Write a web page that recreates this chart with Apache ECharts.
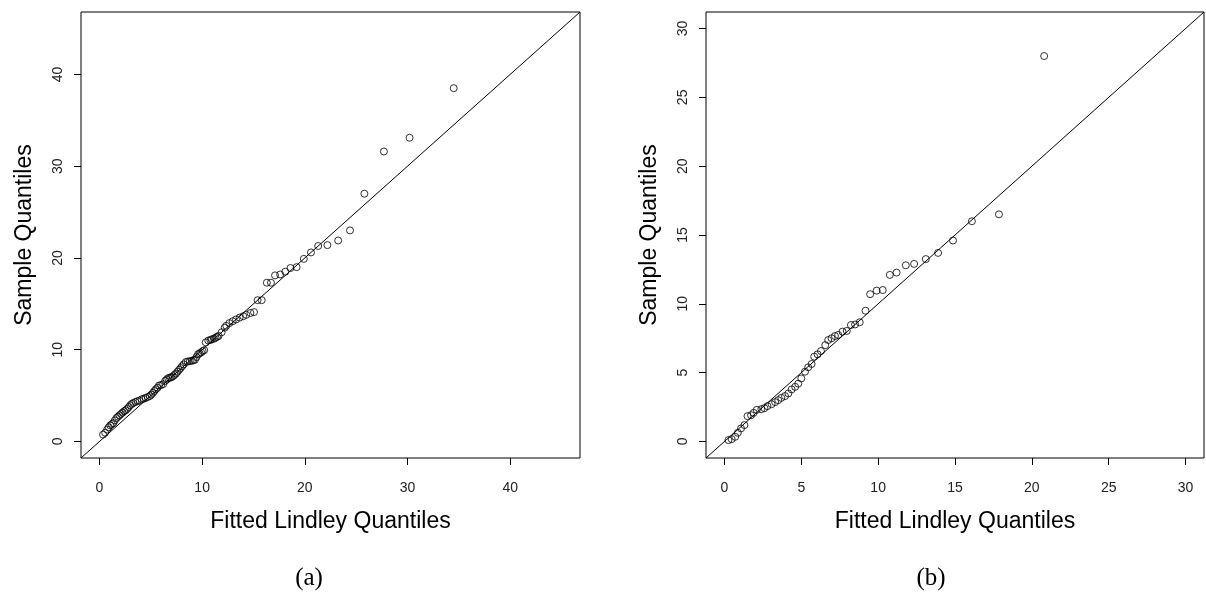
<!DOCTYPE html>
<html>
<head>
<meta charset="utf-8">
<script src="https://cdn.jsdelivr.net/npm/echarts@6/dist/echarts.min.js"></script>
<style>
  html, body { margin: 0; padding: 0; background: #fff; }
  #chart { width: 1206px; height: 594px; }
</style>
</head>
<body>
<div id="chart"></div>
<script>
// panel (a): fitted Lindley quantiles vs sorted sample
const fittedA = [
  0.35, 0.55, 0.75, 0.9, 1.05, 1.2, 1.35, 1.5, 1.65, 1.8,
  1.95, 2.1, 2.25, 2.4, 2.55, 2.7, 2.85, 3.0, 3.15, 3.3,
  3.5, 3.7, 3.9, 4.1, 4.3, 4.5, 4.7, 4.9, 5.05, 5.2,
  5.35, 5.5, 5.65, 5.8, 6.0, 6.2, 6.4, 6.55, 6.7, 6.85,
  7.0, 7.15, 7.3, 7.45, 7.6, 7.75, 7.9, 8.05, 8.2, 8.4,
  8.6, 8.8, 9.0, 9.15, 9.3, 9.45, 9.6, 9.75, 9.9, 10.05,
  10.2, 10.35, 10.6, 10.8, 10.96, 11.15, 11.3, 11.45, 11.6, 11.9,
  12.2, 12.35, 12.65, 12.97, 13.3, 13.65, 14.0, 14.3, 14.7, 15.05,
  15.4, 15.8, 16.3, 16.7, 17.1, 17.6, 18.1, 18.6, 19.2, 19.9,
  20.6, 21.3, 22.2, 23.25, 24.4, 25.8, 27.7, 30.2, 34.5
]
const sampleA = [
  0.75, 0.95, 1.3, 1.55, 1.75, 1.9, 2.0, 2.3, 2.55, 2.7,
  2.85, 3.0, 3.15, 3.3, 3.4, 3.55, 3.75, 3.95, 4.1, 4.2,
  4.3, 4.4, 4.45, 4.6, 4.65, 4.75, 4.85, 4.95, 5.1, 5.3,
  5.5, 5.7, 5.85, 6.1, 6.15, 6.25, 6.6, 6.75, 6.9, 6.95,
  7.0, 7.1, 7.25, 7.4, 7.6, 7.8, 8.0, 8.2, 8.4, 8.65,
  8.72, 8.75, 8.8, 8.85, 8.9, 9.2, 9.5, 9.6, 9.7, 9.85,
  9.95, 10.8, 11.0, 11.05, 11.15, 11.2, 11.3, 11.4, 11.5, 11.9,
  12.4, 12.6, 12.9, 13.1, 13.3, 13.5, 13.65, 13.8, 14.0, 14.1,
  15.4, 15.4, 17.3, 17.3, 18.1, 18.2, 18.5, 18.9, 19.0, 19.9,
  20.6, 21.3, 21.4, 21.9, 23.0, 27.0, 31.6, 33.1, 38.5
]

// panel (b)
const fittedB = [
  0.26, 0.47, 0.7, 0.87, 1.08, 1.3, 1.5, 1.73, 1.9, 2.1,
  2.4, 2.6, 2.8, 3.07, 3.3, 3.5, 3.7, 3.94, 4.16, 4.37,
  4.6, 4.8, 5.0, 5.24, 5.45, 5.67, 5.84, 6.06, 6.28, 6.56,
  6.75, 6.97, 7.19, 7.4, 7.68, 7.96, 8.23, 8.5, 8.8, 9.18,
  9.48, 9.9, 10.3, 10.76, 11.2, 11.8, 12.34, 13.1, 13.9, 14.87,
  16.1, 17.86, 20.8
]
const sampleB = [
  0.1, 0.17, 0.34, 0.63, 0.95, 1.19, 1.84, 1.91, 2.08, 2.3,
  2.35, 2.42, 2.57, 2.71, 2.86, 3.0, 3.17, 3.3, 3.49, 3.78,
  3.97, 4.2, 4.58, 5.07, 5.39, 5.63, 6.16, 6.33, 6.57, 7.0,
  7.37, 7.5, 7.66, 7.74, 7.98, 8.03, 8.46, 8.5, 8.66, 9.5,
  10.7, 10.96, 11.0, 12.1, 12.27, 12.8, 12.9, 13.25, 13.7, 14.6,
  16.0, 16.5, 28.0
]

const ticksA = [0, 10, 20, 30, 40]
const ticksB = [0, 5, 10, 15, 20, 25, 30]
const rangeA = [-1.8, 46.8]
const rangeB = [-1.2, 31.2]

const xTitle = 'Fitted Lindley Quantiles'
const yTitle = 'Sample Quantiles'
const panelLabels = ['(a)', '(b)']

const font = 'Liberation Sans, Arial, Helvetica, sans-serif'
const serif = 'Liberation Serif, DejaVu Serif, serif'

const pairs = (xs, ys) => xs.map((x, i) => [x, ys[i]])

const makeAxis = (gridIndex, range, ticks, name, isY) => ({
  gridIndex: gridIndex,
  type: 'value',
  min: range[0],
  max: range[1],
  name: name,
  nameLocation: 'middle',
  nameGap: isY ? 45 : 52,
  nameTextStyle: { fontFamily: font, fontSize: 23, color: '#000' },
  splitLine: { show: false },
  axisLine: { show: false, onZero: false },
  axisTick: {
    show: true,
    length: 7,
    customValues: ticks,
    lineStyle: { color: '#000', width: 1 }
  },
  axisLabel: {
    customValues: ticks,
    rotate: isY ? 90 : 0,
    margin: isY ? 16 : 23,
    fontFamily: font,
    fontSize: 14,
    color: '#222'
  }
})

const pointSeries = (idx, data) => ({
  type: 'scatter',
  xAxisIndex: idx,
  yAxisIndex: idx,
  data: data,
  symbol: 'circle',
  symbolSize: 7,
  itemStyle: { color: 'rgba(0,0,0,0)', borderColor: '#000', borderWidth: 1 },
  silent: true
})

const refLine = (idx, range) => ({
  type: 'line',
  xAxisIndex: idx,
  yAxisIndex: idx,
  data: [[range[0], range[0]], [range[1], range[1]]],
  symbol: 'none',
  clip: true,
  lineStyle: { color: '#000', width: 1 },
  silent: true
})

const panelTitle = (text, x) => ({
  text: text,
  left: x,
  top: 561,
  textAlign: 'center',
  textStyle: { fontFamily: serif, fontSize: 25, fontWeight: 'normal', color: '#000' }
})

const chart = echarts.init(document.getElementById('chart'))

const option = {
  animation: false,
  backgroundColor: '#fff',
  title: [
    panelTitle(panelLabels[0], 304),
    panelTitle(panelLabels[1], 926)
  ],
  grid: [
    { left: 81, top: 12, width: 499, height: 446, show: true, borderColor: '#000', borderWidth: 1, backgroundColor: 'transparent' },
    { left: 706, top: 12, width: 498, height: 446, show: true, borderColor: '#000', borderWidth: 1, backgroundColor: 'transparent' }
  ],
  xAxis: [
    makeAxis(0, rangeA, ticksA, xTitle, false),
    makeAxis(1, rangeB, ticksB, xTitle, false)
  ],
  yAxis: [
    makeAxis(0, rangeA, ticksA, yTitle, true),
    makeAxis(1, rangeB, ticksB, yTitle, true)
  ],
  series: [
    refLine(0, rangeA),
    pointSeries(0, pairs(fittedA, sampleA)),
    refLine(1, rangeB),
    pointSeries(1, pairs(fittedB, sampleB))
  ]
}

chart.setOption(option)
</script>
</body>
</html>
